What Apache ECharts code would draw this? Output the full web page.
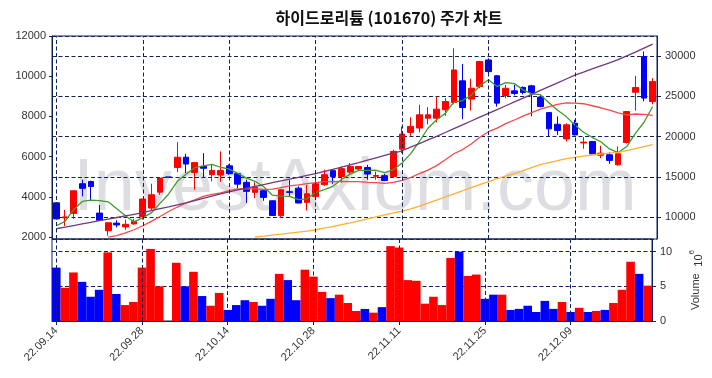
<!DOCTYPE html>
<html>
<head>
<meta charset="utf-8">
<script src="https://cdn.jsdelivr.net/npm/echarts@6/dist/echarts.min.js"></script>
<style>
  html, body { margin: 0; padding: 0; background: #fff; }
  #chart { width: 712px; height: 378px; }
</style>
</head>
<body>
<div id="chart"></div>
<script>
// 일자
const dates = [
  '22.09.14','22.09.15','22.09.16','22.09.19','22.09.20','22.09.21','22.09.22','22.09.23','22.09.26','22.09.27',
  '22.09.28','22.09.29','22.09.30','22.10.04','22.10.05','22.10.06','22.10.07','22.10.11','22.10.12','22.10.13',
  '22.10.14','22.10.17','22.10.18','22.10.19','22.10.20','22.10.21','22.10.24','22.10.25','22.10.26','22.10.27',
  '22.10.28','22.10.31','22.11.01','22.11.02','22.11.03','22.11.04','22.11.07','22.11.08','22.11.09','22.11.10',
  '22.11.11','22.11.14','22.11.15','22.11.16','22.11.17','22.11.18','22.11.21','22.11.22','22.11.23','22.11.24',
  '22.11.25','22.11.28','22.11.29','22.11.30','22.12.01','22.12.02','22.12.05','22.12.06','22.12.07','22.12.08',
  '22.12.09','22.12.12','22.12.13','22.12.14','22.12.15','22.12.16','22.12.19','22.12.20','22.12.21','22.12.22'
];
const opens = [
  3700,2950,3170,4650,4760,3190,2310,2690,2500,2650,
  3020,3440,4230,4980,5460,5970,5210,5510,5100,5080,
  5540,5150,4720,4220,4300,3800,3060,4250,4430,3720,
  4020,4600,5300,5010,5230,5380,5460,5020,5050,5010,
  6370,7200,7420,7910,7910,8330,8690,9770,8860,9490,
  10810,10020,9040,9270,9440,9520,8960,8190,7610,6880,
  7660,6680,6750,6070,6090,5590,6700,9200,10980,8740
];
const closes = [
  2900,3000,4300,4420,4510,2830,2710,2600,2630,2780,
  3890,4100,4930,4980,5970,5630,5700,5420,5310,5310,
  5150,4630,4270,4480,3970,3070,4350,4220,3690,4150,
  4650,5100,5010,5400,5510,5510,5130,5060,4810,6260,
  7120,7500,8080,8080,8360,8740,10310,8440,9400,10730,
  10230,8660,9400,9140,9190,9190,8490,7380,7300,7580,
  7080,6720,6140,6170,5810,6140,8240,9440,8910,9730
];
const lows = [
  2880,2550,2900,4020,3820,2800,2060,2480,2360,2620,
  2860,3350,4100,4980,5230,5180,4350,4980,4770,4750,
  5100,4430,3690,3930,3800,3060,2940,4020,3680,3320,
  3950,4550,4650,4700,5150,5300,4850,4850,4780,4930,
  6170,7030,7200,7600,7700,8030,8600,7860,8290,9400,
  10150,8490,8900,9050,9100,8010,8450,7000,7080,6750,
  7050,6390,6090,5920,5640,5550,6650,8280,8750,8600
];
const highs = [
  3720,3350,4300,4850,4800,3590,2720,2830,2860,2900,
  3900,4650,4940,4980,6720,6140,5720,6170,5600,6260,
  5610,5170,4850,4720,4380,3820,4360,4820,4520,4600,
  5100,5350,5350,5510,5680,5530,5590,5260,5140,6340,
  7500,7960,8580,8460,8990,8910,11390,10610,9870,10760,
  10890,10050,9570,9570,9490,9570,9100,8200,8000,7660,
  7830,6970,6780,6540,6210,6500,8250,10020,11230,9900
];
// 거래량 (백만주)
const volumes = [
  7.7,4.8,7.0,5.65,3.5,4.5,9.9,3.9,2.3,2.75,
  7.7,10.4,5.0,0,8.4,5.0,7.1,3.6,2.2,4.05,
  1.6,2.3,3.0,2.75,2.2,3.2,6.8,5.9,3.0,7.4,
  6.4,4.2,3.3,3.8,2.6,1.45,1.74,1.2,2.0,10.8,
  10.6,5.9,5.8,2.5,3.5,2.3,9.1,10.0,6.5,6.7,
  3.2,3.8,3.8,1.6,1.75,2.2,1.3,2.9,1.75,2.75,
  1.3,1.9,1.3,1.45,1.6,2.6,4.5,8.55,6.8,5.1
];
const ma5 = [
  2560,2780,3360,3770,3830,3810,3750,3410,3060,2750,
  2960,3200,3670,4140,4770,5120,5440,5540,5610,5470,
  5380,5160,4930,4770,4500,4080,4030,4020,3860,3900,
  4210,4360,4520,4860,5130,5310,5310,5320,5200,5350,
  5680,6150,6750,7410,7830,8150,8710,8790,9050,9520,
  9820,9490,9680,9630,9320,9120,9080,8680,8310,7990,
  7570,7210,6960,6740,6380,6200,6500,7160,7710,8490
];
const ma20 = [
  null,null,null,null,null,null,1990,2065,2200,2360,
  2560,2780,3020,3270,3490,3690,3850,4020,4120,4200,
  4310,4390,4390,4390,4370,4380,4460,4540,4590,4660,
  4700,4750,4750,4770,4750,4750,4720,4700,4670,4720,
  4820,4960,5150,5330,5550,5840,6140,6350,6630,6960,
  7240,7420,7640,7820,8010,8190,8360,8480,8600,8670,
  8660,8630,8530,8430,8310,8180,8070,8120,8100,8050
];
const ma60 = [
  null,null,null,null,null,null,null,null,null,null,
  null,null,null,null,null,null,null,null,null,null,
  null,null,null,2000,2040,2090,2140,2190,2240,2290,
  2360,2440,2520,2610,2700,2800,2900,3000,3100,3200,
  3280,3400,3540,3690,3830,3990,4150,4300,4460,4610,
  4760,4900,5030,5150,5300,5450,5600,5700,5800,5900,
  5960,6020,6080,6130,6170,6210,6300,6400,6500,6590
];
const trend = [
  2410,2490,2570,2650,2730,2810,2890,2970,3050,3130,
  3210,3310,3410,3500,3600,3700,3810,3920,4030,4140,
  4250,4340,4430,4520,4610,4700,4790,4880,4970,5060,
  5150,5260,5370,5480,5590,5700,5820,5940,6060,6170,
  6290,6470,6650,6830,7010,7200,7390,7580,7770,7960,
  8150,8340,8530,8720,8910,9100,9290,9480,9670,9860,
  10050,10200,10360,10510,10660,10820,11010,11200,11400,11600
];
const tickDates = ['22.09.14','22.09.28','22.10.14','22.10.28','22.11.11','22.11.25','22.12.09'];

const UP = '#ff0000', DOWN = '#0000ff', NAVY = '#10225e';
const dash = { color: NAVY, width: 1, type: [4, 2.5] };

let candles = dates.map((d, i) => {
  let item = { value: [opens[i], closes[i], lows[i], highs[i]] };
  if (opens[i] === closes[i]) item.itemStyle = { color: DOWN, borderColor: DOWN };
  return item;
});

let vLines = {
  silent: true,
  symbol: ['none', 'none'],
  label: { show: false },
  lineStyle: dash,
  emphasis: { disabled: true },
  data: tickDates.map(d => ({ xAxis: d }))
};

let isTick = (idx) => tickDates.indexOf(dates[idx]) >= 0;
let plain = (v) => String(v);
let labelFont = { color: '#333', fontSize: 11, fontFamily: 'Liberation Sans' };

let myChart = echarts.init(document.getElementById('chart'));
myChart.setOption({
  animation: false,
  backgroundColor: '#fff',
  graphic: [
    {
      type: 'text', x: 389, y: 18, z: 10,
      style: {
        text: '하이드로리튬 (101670) 주가 차트',
        font: 'bold 16px "Noto Sans CJK KR"',
        fill: '#111', textAlign: 'center', textVerticalAlign: 'middle'
      }
    },
    {
      type: 'text', x: 355, y: 190, z: -10, silent: true,
      style: {
        text: 'InvestAxiom.com',
        font: '74px "Liberation Sans"',
        fill: '#dedee2', textAlign: 'center', textVerticalAlign: 'middle'
      }
    }
  ],
  grid: [
    { left: 52, top: 36, width: 605, height: 203, show: true, borderColor: NAVY, borderWidth: 1, backgroundColor: 'transparent' },
    { left: 52, top: 239, width: 605, height: 82, show: true, borderColor: NAVY, borderWidth: 1, backgroundColor: 'transparent' }
  ],
  xAxis: [
    {
      type: 'category', gridIndex: 0, data: dates, boundaryGap: true,
      axisLine: { show: false }, axisTick: { show: false }, axisLabel: { show: false },
      splitLine: { show: false }
    },
    {
      type: 'category', gridIndex: 1, data: dates, boundaryGap: true,
      axisLine: { show: true, lineStyle: { color: NAVY } },
      axisTick: { show: true, alignWithLabel: true, interval: isTick, length: 4, lineStyle: { color: NAVY } },
      axisLabel: Object.assign({ interval: isTick, rotate: 45, margin: 8 }, labelFont),
      splitLine: { show: false }
    }
  ],
  yAxis: [
    {
      type: 'value', gridIndex: 0, position: 'left', min: 1900, max: 12000,
      axisLine: { show: true, lineStyle: { color: NAVY } },
      axisTick: { show: true, length: 3, lineStyle: { color: NAVY } },
      axisLabel: Object.assign({ showMinLabel: false, margin: 6, formatter: plain }, labelFont),
      splitLine: { show: false }
    },
    {
      type: 'value', gridIndex: 0, position: 'right', min: 7310, max: 32480,
      axisLine: { show: true, lineStyle: { color: NAVY } },
      axisTick: { show: true, length: 4, lineStyle: { color: NAVY } },
      axisLabel: Object.assign({ showMinLabel: false, showMaxLabel: false, margin: 8, formatter: plain }, labelFont),
      splitLine: { show: true, lineStyle: dash }
    },
    {
      type: 'value', gridIndex: 1, position: 'right', min: 0, max: 11.83, interval: 5,
      axisLine: { show: true, lineStyle: { color: NAVY } },
      axisTick: { show: true, length: 4, lineStyle: { color: NAVY } },
      axisLabel: Object.assign({ showMaxLabel: false, margin: 8, formatter: plain }, labelFont),
      splitLine: { show: true, lineStyle: dash },
      name: '{v|Volume}  {b|10}{s|6}',
      nameLocation: 'middle', nameRotate: 90, nameGap: 36,
      nameTextStyle: {
        color: '#333', fontFamily: 'Liberation Sans',
        rich: {
          v: { fontSize: 11, fontFamily: 'Liberation Sans', color: '#333', lineHeight: 16 },
          b: { fontSize: 11, fontFamily: 'Liberation Sans', color: '#333', lineHeight: 16, verticalAlign: 'bottom' },
          s: { fontSize: 8, fontFamily: 'Liberation Sans', color: '#333', lineHeight: 16, verticalAlign: 'top' }
        }
      }
    }
  ],
  series: [
    {
      type: 'candlestick', xAxisIndex: 0, yAxisIndex: 0, z: 2,
      barWidth: '72%',
      data: candles,
      itemStyle: { color: UP, color0: DOWN, borderColor: UP, borderColor0: DOWN, borderWidth: 1 },
      markLine: vLines
    },
    { type: 'line', name: 'MA5', xAxisIndex: 0, yAxisIndex: 0, data: ma5, symbol: 'none', z: 3,
      lineStyle: { color: '#3c9c2c', width: 1.3 } },
    { type: 'line', name: 'MA20', xAxisIndex: 0, yAxisIndex: 0, data: ma20, symbol: 'none', z: 3,
      lineStyle: { color: '#f54a4a', width: 1.3 } },
    { type: 'line', name: 'MA60', xAxisIndex: 0, yAxisIndex: 0, data: ma60, symbol: 'none', z: 3,
      lineStyle: { color: '#ffb030', width: 1.3 } },
    { type: 'line', name: 'trend', xAxisIndex: 0, yAxisIndex: 0, data: trend, symbol: 'none', z: 3,
      lineStyle: { color: '#6e3a7e', width: 1.3 } },
    {
      type: 'bar', xAxisIndex: 1, yAxisIndex: 2, data: volumes, barWidth: '100%', z: 2,
      itemStyle: {
        color: (p) => closes[p.dataIndex] >= opens[p.dataIndex] ? UP : DOWN
      },
      markLine: vLines
    }
  ]
});
</script>
</body>
</html>
